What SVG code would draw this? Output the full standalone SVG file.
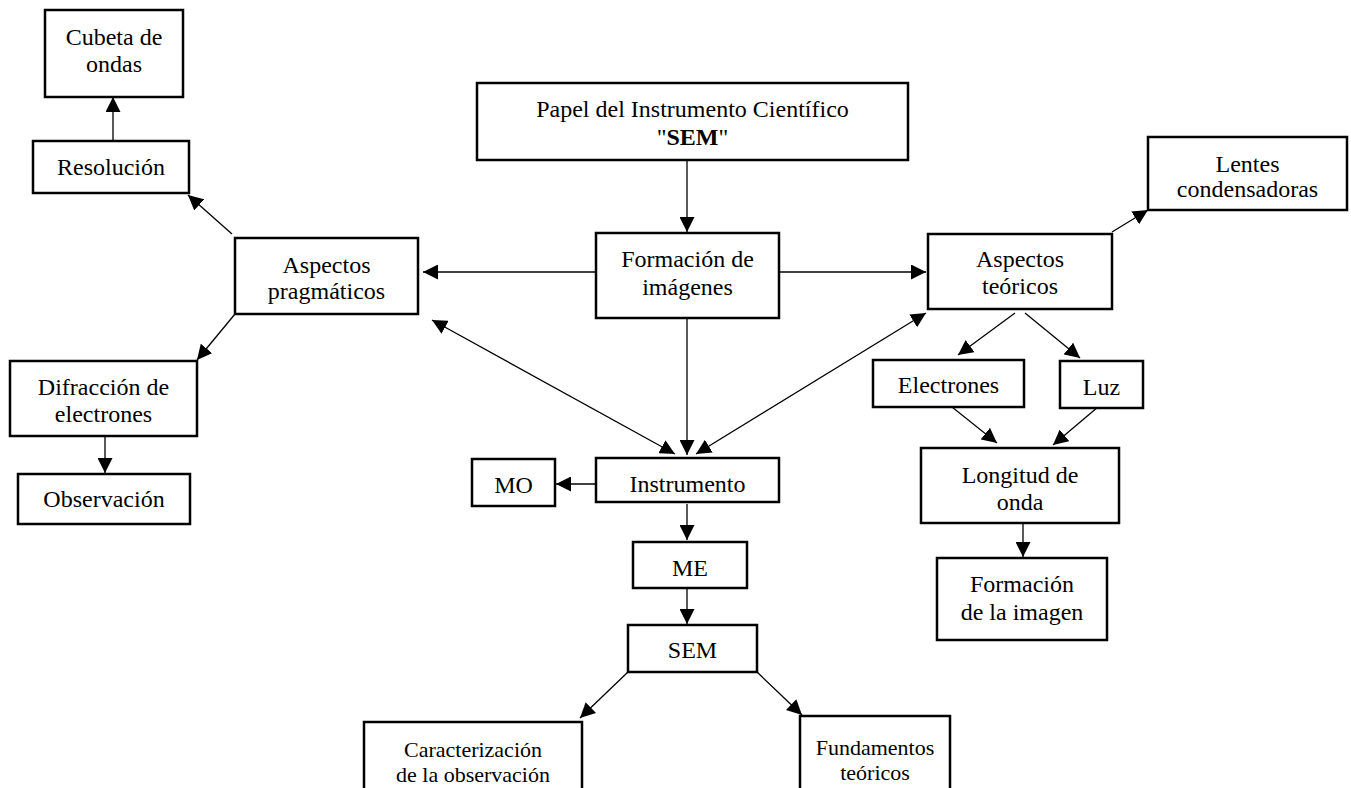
<svg xmlns="http://www.w3.org/2000/svg" width="1351" height="788" viewBox="0 0 1351 788">
<style>
.box{fill:#fff;stroke:#000;stroke-width:2.5}
.t{font-size:24px;fill:#000;text-anchor:middle}
.s{font-size:22px}
.c{stroke:#000;stroke-width:1.3;fill:none;marker-end:url(#ah)}
.d{marker-start:url(#ahs)}
</style>
<defs>
<marker id="ah" markerUnits="userSpaceOnUse" markerWidth="15" markerHeight="15" refX="15" refY="7.5" orient="auto"><path d="M0,0 L15,7.5 L0,15 z" fill="#000"/></marker>
<marker id="ahs" markerUnits="userSpaceOnUse" markerWidth="15" markerHeight="15" refX="15" refY="7.5" orient="auto-start-reverse"><path d="M0,0 L15,7.5 L0,15 z" fill="#000"/></marker>
</defs>
<rect width="1351" height="788" fill="#fff"/>
<g id="connectors">
<line class="c" x1="113" y1="141" x2="113" y2="97"/>
<line class="c" x1="232" y1="234" x2="188" y2="195"/>
<line class="c" x1="235" y1="314" x2="197" y2="360"/>
<line class="c" x1="105" y1="436" x2="105" y2="473"/>
<line class="c" x1="687" y1="160" x2="687" y2="232"/>
<line class="c" x1="596" y1="272" x2="423" y2="272"/>
<line class="c" x1="779" y1="272" x2="926" y2="272"/>
<line class="c" x1="687" y1="318" x2="687" y2="455"/>
<line class="c d" x1="432" y1="320" x2="675" y2="454"/>
<line class="c d" x1="926" y1="313" x2="696" y2="454"/>
<line class="c" x1="1112" y1="232" x2="1148" y2="210"/>
<line class="c" x1="1015" y1="313" x2="958" y2="355"/>
<line class="c" x1="1025" y1="313" x2="1080" y2="358"/>
<line class="c" x1="952" y1="407" x2="997" y2="443"/>
<line class="c" x1="1098" y1="407" x2="1053" y2="445"/>
<line class="c" x1="1023" y1="523" x2="1023" y2="557"/>
<line class="c" x1="596" y1="484" x2="556" y2="484"/>
<line class="c" x1="687" y1="504" x2="687" y2="540"/>
<line class="c" x1="687" y1="588" x2="687" y2="624"/>
<line class="c" x1="628" y1="672" x2="580" y2="718"/>
<line class="c" x1="757" y1="672" x2="802" y2="715"/>
</g>
<g font-family="Liberation Serif, Tinos, Times New Roman, Times, DejaVu Serif, serif">
<g id="cubeta"><rect class="box" x="45" y="10" width="138" height="87"/><text class="t" x="114" y="45">Cubeta de</text><text class="t" x="114" y="72">ondas</text></g>
<g id="resolucion"><rect class="box" x="33" y="141" width="156" height="52"/><text class="t" x="111" y="175">Resolución</text></g>
<g id="pragmaticos"><rect class="box" x="235" y="238" width="183" height="76"/><text class="t" x="326.5" y="273">Aspectos</text><text class="t" x="326.5" y="299">pragmáticos</text></g>
<g id="difraccion"><rect class="box" x="10" y="361" width="187" height="75"/><text class="t" x="103.5" y="395">Difracción de</text><text class="t" x="103.5" y="422">electrones</text></g>
<g id="observacion"><rect class="box" x="18" y="474" width="172" height="50"/><text class="t" x="104" y="507">Observación</text></g>
<g id="papel"><rect class="box" x="477" y="83" width="431" height="77"/><text class="t" x="692.5" y="117">Papel del Instrumento Científico</text><text class="t" x="692.5" y="145">"<tspan font-weight="bold">SEM</tspan>"</text></g>
<g id="formacion"><rect class="box" x="596" y="233" width="183" height="85"/><text class="t" x="687.5" y="267">Formación de</text><text class="t" x="687.5" y="295">imágenes</text></g>
<g id="teoricos"><rect class="box" x="928" y="234" width="184" height="75"/><text class="t" x="1020" y="267">Aspectos</text><text class="t" x="1020" y="294">teóricos</text></g>
<g id="lentes"><rect class="box" x="1148" y="137" width="199" height="73"/><text class="t" x="1247.5" y="172">Lentes</text><text class="t" x="1247.5" y="197">condensadoras</text></g>
<g id="electrones"><rect class="box" x="873" y="360" width="151" height="47"/><text class="t" x="948.5" y="393">Electrones</text></g>
<g id="luz"><rect class="box" x="1060" y="361" width="83" height="47"/><text class="t" x="1101.5" y="395">Luz</text></g>
<g id="longitud"><rect class="box" x="921" y="448" width="198" height="75"/><text class="t" x="1020" y="483">Longitud de</text><text class="t" x="1020" y="510">onda</text></g>
<g id="formacionimagen"><rect class="box" x="937" y="558" width="170" height="82"/><text class="t" x="1022" y="592">Formación</text><text class="t" x="1022" y="620">de la imagen</text></g>
<g id="instrumento"><rect class="box" x="596" y="458" width="183" height="44"/><text class="t" x="687.5" y="492">Instrumento</text></g>
<g id="mo"><rect class="box" x="472" y="459" width="83" height="47"/><text class="t" x="513.5" y="493">MO</text></g>
<g id="me"><rect class="box" x="633" y="542" width="114" height="46"/><text class="t" x="690" y="576">ME</text></g>
<g id="sem"><rect class="box" x="628" y="625" width="129" height="47"/><text class="t" x="692.5" y="658">SEM</text></g>
<g id="caracterizacion"><rect class="box" x="364" y="722" width="218" height="80"/><text class="t s" x="473" y="757">Caracterización</text><text class="t s" x="473" y="782">de la observación</text></g>
<g id="fundamentos"><rect class="box" x="800" y="716" width="150" height="80"/><text class="t s" x="875" y="755">Fundamentos</text><text class="t s" x="875" y="780">teóricos</text></g>
</g>
</svg>
